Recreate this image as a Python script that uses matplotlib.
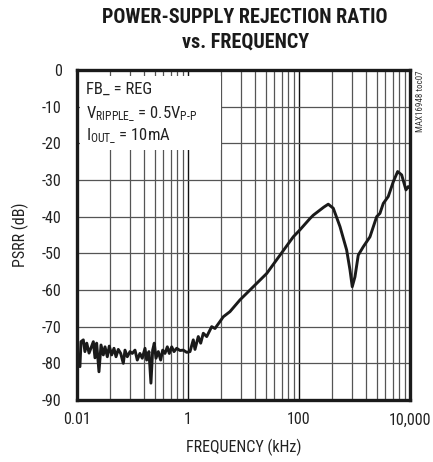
import matplotlib
matplotlib.use("Agg")
import matplotlib.pyplot as plt
from matplotlib import font_manager
from matplotlib.patches import Rectangle
from matplotlib.ticker import FixedLocator, NullFormatter

# pick the narrowest sans family that is installed
installed = {f.name for f in font_manager.fontManager.ttflist}
narrow = next((n for n in ["Liberation Sans Narrow", "DejaVu Sans Condensed", "Roboto Condensed",
                           "Liberation Sans", "DejaVu Sans"] if n in installed), "DejaVu Sans")

plt.rcParams["font.family"] = [narrow, "DejaVu Sans"]
plt.rcParams["mathtext.fontset"] = "custom"
plt.rcParams["mathtext.rm"] = narrow
plt.rcParams["mathtext.it"] = narrow
plt.rcParams["axes.unicode_minus"] = False

# PSRR curve (frequency in kHz, PSRR in dB)
freq_khz = [0.0100, 0.0113, 0.0118, 0.0130, 0.0139, 0.0150, 0.0165, 0.0179, 0.0197,
            0.0211, 0.0226, 0.0249, 0.0271, 0.0298, 0.0320, 0.0352, 0.0382, 0.0422,
            0.0464, 0.0505, 0.0555, 0.0613, 0.0683, 0.0733, 0.0806, 0.0902, 0.0991,
            0.111, 0.122, 0.136, 0.150, 0.168, 0.180, 0.198, 0.215, 0.231, 0.247,
            0.265, 0.292, 0.322, 0.350, 0.385, 0.424, 0.461, 0.509, 0.560, 0.626,
            0.717, 0.823, 0.948, 1.087, 1.246, 1.337, 1.534, 1.694, 1.888, 2.175,
            2.675, 3.065, 3.77, 4.33, 5.71, 8.65, 13.1, 26.2, 45.5, 78.9, 104, 158,
            181, 280, 337, 415, 548, 723, 830, 912, 1021, 1170, 1442, 1902, 2512,
            2877, 3304, 4064, 5000, 6000, 7080, 8470, 9310, 10000]
psrr_db = [-79.5, -80.9, -74.1, -73.6, -76.8, -74.5, -77.2, -75.8, -74.1,
           -78.5, -74.5, -82.3, -75.0, -77.7, -75.5, -78.2, -75.3, -77.7,
           -75.9, -78.2, -76.2, -77.3, -80.0, -76.4, -78.2, -76.8, -77.3,
           -76.4, -79.1, -77.3, -78.6, -75.9, -79.1, -76.8, -85.4, -76.4, -74.5,
           -78.6, -76.8, -79.1, -76.4, -77.3, -75.5, -77.3, -75.5, -76.8, -75.9,
           -76.5, -76.4, -77.0, -76.8, -73.6, -76.2, -72.7, -74.5, -71.8, -72.7,
           -70.0, -70.5, -68.6, -67.3, -65.9, -62.7, -60.0, -55.5, -50.5, -45.5, -43.6, -40.5,
           -39.6, -37.4, -36.6, -37.7, -42.7, -49.1, -54.5, -59.1, -56.4, -50.5, -48.2, -45.5, -40.0,
           -39.1, -36.4, -34.5, -30.5, -27.7, -28.6, -32.7, -31.8, -32.0]

x_major = [0.01, 1, 100, 10000]
x_labels = ["0.01", "1", "100", "10,000"]
y_ticks = [0, -10, -20, -30, -40, -50, -60, -70, -80, -90]

# grid subdivisions between labelled ticks (two decades per label step)
x_minor = [b * k * k for b in x_major[:-1] for k in range(2, 10)]

fig = plt.figure(figsize=(4.33, 4.62), dpi=100)
ax = fig.add_axes([0.1778, 0.1342, 0.769, 0.7143])

ax.plot(freq_khz, psrr_db, color="#1a1a1a", lw=2.1, zorder=3, solid_joinstyle="round")

ax.set_xscale("log")
ax.set_xlim(0.01, 10000)
ax.set_ylim(-90, 0)
ax.xaxis.set_major_locator(FixedLocator(x_major))
ax.xaxis.set_minor_locator(FixedLocator(x_minor))
ax.xaxis.set_minor_formatter(NullFormatter())
ax.set_xticks(x_major, x_labels)
ax.set_yticks(y_ticks)
ax.tick_params(which="both", length=0, labelsize=11.5, colors="#222222")
ax.tick_params(axis="x", pad=9)
ax.tick_params(axis="y", pad=11)

ax.set_axisbelow(True)
ax.grid(which="major", axis="x", color="#111111", lw=1.0)
ax.grid(which="minor", axis="x", color="#555555", lw=0.9)
ax.grid(which="major", axis="y", color="#555555", lw=0.9)

for s in ax.spines.values():
    s.set_linewidth(2.4)
    s.set_color("#1a1a1a")

# white area behind the conditions text
ax.add_patch(Rectangle((0.009, 0.758), 0.423, 0.224, transform=ax.transAxes,
                       facecolor="white", edgecolor="none", zorder=1))
ax.text(0.027, 0.94, "FB_ = REG", transform=ax.transAxes, fontsize=12,
        va="center", ha="left", zorder=4, color="#222222")
ax.text(0.027, 0.866, r"V$_{\mathrm{RIPPLE\_}}$ = 0.5V$_{\mathrm{P\text{-}P}}$",
        transform=ax.transAxes, fontsize=12, va="center", ha="left", zorder=4, color="#222222")
ax.text(0.027, 0.80, r"I$_{\mathrm{OUT\_}}$ = 10mA", transform=ax.transAxes,
        fontsize=12, va="center", ha="left", zorder=4, color="#222222")

ax.set_xlabel("FREQUENCY (kHz)", fontsize=11.5, color="#222222", labelpad=8)
ax.set_ylabel("PSRR (dB)", fontsize=11.5, color="#222222", labelpad=9)

fig.text(0.566, 0.963, "POWER-SUPPLY REJECTION RATIO", ha="center", va="center",
         fontsize=14.5, fontweight="heavy", color="#1a1a1a")
fig.text(0.566, 0.908, "vs. FREQUENCY", ha="center", va="center",
         fontsize=14.5, fontweight="heavy", color="#1a1a1a")
fig.text(0.970, 0.848, "MAX16948 toc07", rotation=90, ha="center", va="top",
         fontsize=6.5, color="#333333")

fig.savefig("out.png", dpi=100)
